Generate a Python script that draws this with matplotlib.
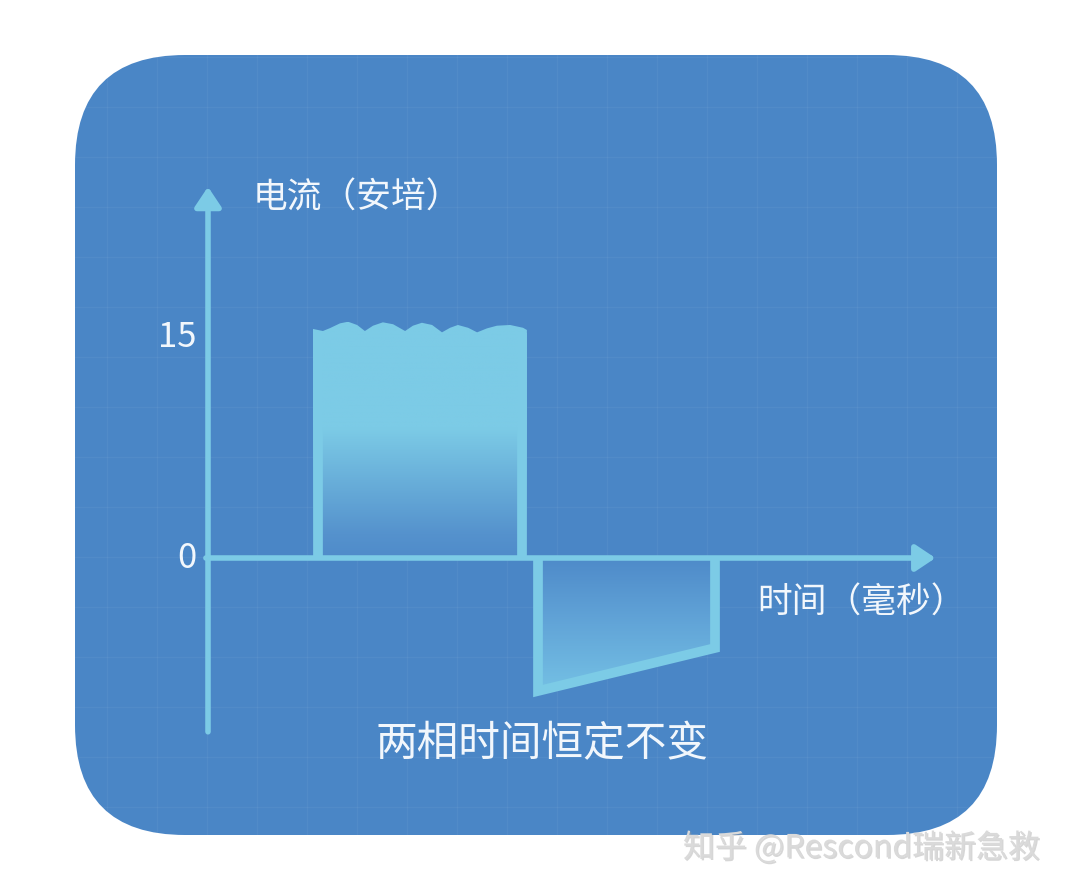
import numpy as np
import matplotlib
matplotlib.use("Agg")
import matplotlib.pyplot as plt
from matplotlib.patches import FancyBboxPatch, Polygon
from matplotlib.colors import LinearSegmentedColormap
import matplotlib.patheffects as pe

plt.rcParams['font.family'] = ['Noto Sans CJK SC', 'DejaVu Sans']

# data: time (ms) / current (A)
pos_start, pos_end = 3.67, 10.47
# wavy top of the positive phase
pos_top_t = [3.50, 3.83, 4.07, 4.40, 4.67, 4.97, 5.23, 5.50, 5.83, 6.17, 6.57, 6.83,
             7.13, 7.47, 7.80, 8.07, 8.33, 8.67, 8.97, 9.30, 9.63, 10.07, 10.50, 10.63]
pos_top_i = [15.55, 15.41, 15.61, 15.93, 16.04, 15.82, 15.41, 15.77, 16.00, 15.87, 15.41, 15.77,
             15.97, 15.82, 15.32, 15.63, 15.82, 15.63, 15.32, 15.59, 15.77, 15.82, 15.63, 15.48]
neg_t = [11.0, 11.0, 16.9, 16.9]
neg_i = [0.0, -9.03, -6.11, 0.0]
y_ticks = [0, 15]
y_label = "电流（安培）"
x_label = "时间（毫秒）"
title = "两相时间恒定不变"
watermark = "知乎 @Rescond瑞新急救"

BG = '#4a86c6'
LIGHT = '#7ccbe6'
TXT = '#f2f7fc'

W, H = 1067, 892
fig = plt.figure(figsize=(W / 100, H / 100), dpi=100)
fig.patch.set_facecolor('white')

# background panel in pixel coords
bg = fig.add_axes([0, 0, 1, 1])
bg.set_xlim(0, W)
bg.set_ylim(H, 0)
bg.axis('off')
panel = FancyBboxPatch((75, 55), 922, 780, boxstyle='round,pad=0,rounding_size=110',
                       facecolor=BG, edgecolor='none')
bg.add_patch(panel)
for gx in np.arange(7, W, 50):
    ln = bg.axvline(gx, color='white', alpha=0.045, lw=1)
    ln.set_clip_path(panel)
for gy in np.arange(7, H, 50):
    ln = bg.axhline(gy, color='white', alpha=0.045, lw=1)
    ln.set_clip_path(panel)

# data axes: x px = 208 + 30 t, y px = 558 - 14.73 I
ax = fig.add_axes([0, 0, 1, 1])
ax.patch.set_alpha(0)
ax.set_xlim(-208 / 30, (W - 208) / 30)
ax.set_ylim((558 - H) / 14.73, 558 / 14.73)
ax.axis('off')

grad = np.linspace(0, 1, 256).reshape(-1, 1)

# positive phase
pos_poly = [(pos_top_t[0], 0)] + list(zip(pos_top_t, pos_top_i)) + [(pos_top_t[-1], 0)]
clip1 = Polygon(pos_poly, closed=True, facecolor='none', edgecolor='none')
ax.add_patch(clip1)
cm1 = LinearSegmentedColormap.from_list('p', [(0, '#4f8bca'), (0.1, '#5592cd'), (0.55, LIGHT), (1, LIGHT)])
im1 = ax.imshow(grad, extent=[pos_top_t[0], pos_top_t[-1], 0, 16], origin='lower',
                aspect='auto', cmap=cm1, zorder=2)
im1.set_clip_path(clip1)
for t in (pos_start, pos_end):
    ax.plot([t, t], [0, 15.3], color=LIGHT, lw=7, solid_capstyle='butt', zorder=3)

# negative phase
clip2 = Polygon(list(zip(neg_t, neg_i)), closed=True, facecolor='none', edgecolor='none')
ax.add_patch(clip2)
cm2 = LinearSegmentedColormap.from_list('n', [(0, '#74c0e4'), (0.5, '#62a5d8'), (1, '#4e8ac9')])
im2 = ax.imshow(grad, extent=[neg_t[0], neg_t[-1], min(neg_i), 0], origin='lower',
                aspect='auto', cmap=cm2, zorder=2)
im2.set_clip_path(clip2)
ax.plot(neg_t, neg_i, color=LIGHT, lw=7, solid_joinstyle='miter', solid_capstyle='butt', zorder=3)

# axes with arrows
arrow = dict(arrowstyle='-|>,head_length=0.6,head_width=0.4', color=LIGHT, lw=4,
             mutation_scale=20, shrinkA=0, shrinkB=0)
ax.annotate('', xy=(0, 25.2), xytext=(0, -11.8), arrowprops=arrow, zorder=4)
ax.annotate('', xy=(24.25, 0), xytext=(-0.07, 0), arrowprops=arrow, zorder=4)

for v in y_ticks:
    ax.text(-0.4, v, str(v), ha='right', va='center', fontsize=25, color=TXT, zorder=5)

ax.text(1.5, 24.45, y_label, ha='left', va='center', fontsize=25, color=TXT)
ax.text(18.3, -3.05, x_label, ha='left', va='center', fontsize=25, color=TXT)
ax.text(11.13, -12.7, title, ha='center', va='center', fontsize=30, color=TXT)

bg.text(1040, 848, watermark, ha='right', va='center', fontsize=23, color='#dadada',
        path_effects=[pe.withSimplePatchShadow(offset=(1, -1), shadow_rgbFace='#9a9a9a', alpha=0.4)])

fig.savefig('out.png', dpi=100, facecolor='white')
